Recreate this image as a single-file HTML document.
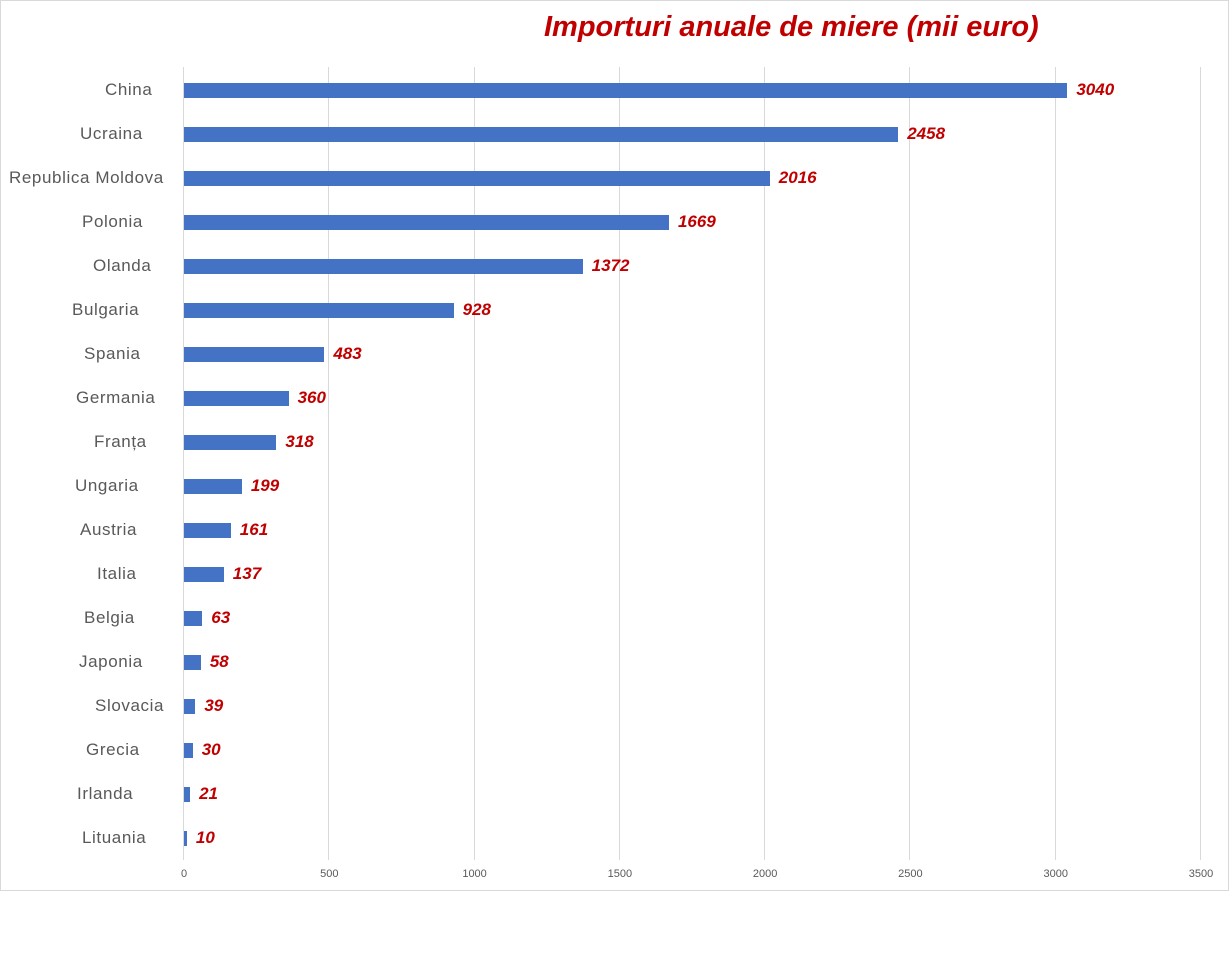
<!DOCTYPE html>
<html><head><meta charset="utf-8"><style>
body{margin:0;width:1229px;height:959px;background:#fff;position:relative;overflow:hidden;font-family:"Liberation Sans",sans-serif}
.b{position:absolute;border:1px solid #d9d9d9;left:0;top:0;width:1227px;height:889px}
.t{position:absolute;left:544px;top:11px;font-size:29px;font-weight:bold;font-style:italic;color:#c00000;white-space:nowrap}
.g{position:absolute;top:67px;height:793px;width:1px;background:#d9d9d9}
.x{position:absolute;top:868px;font-size:11px;color:#595959;transform:translateX(-50%)}
.c{position:absolute;font-size:17px;color:#595959;white-space:nowrap;letter-spacing:0.6px}
.bar{position:absolute;left:184px;height:15px;background:#4472c4}
.v{position:absolute;font-size:17px;font-weight:bold;font-style:italic;color:#c00000}
</style></head><body>
<div class="b"></div>
<div class="t">Importuri anuale de miere (mii euro)</div>
<div id="c"></div>
<script>
var s=1017/3500,h='';
for(var i=0;i<=7;i++){var x=183+i*500*s;h+='<div class="g" style="left:'+x+'px"></div><div class="x" style="left:'+(x+1)+'px">'+(i*500)+'</div>';}
var d=[["China",3040,105],["Ucraina",2458,80],["Republica Moldova",2016,9],["Polonia",1669,82],["Olanda",1372,93],["Bulgaria",928,72],["Spania",483,84],["Germania",360,76],["Franța",318,94],["Ungaria",199,75],["Austria",161,80],["Italia",137,97],["Belgia",63,84],["Japonia",58,79],["Slovacia",39,95],["Grecia",30,86],["Irlanda",21,77],["Lituania",10,82]];
d.forEach(function(r,k){var y=90+k*44,w=Math.max(2,r[1]*s);
h+='<div class="c" style="left:'+r[2]+'px;top:'+(y-10)+'px">'+r[0]+'</div>';
h+='<div class="bar" style="top:'+(y-7)+'px;width:'+w+'px"></div>';
h+='<div class="v" style="left:'+(184+w+9)+'px;top:'+(y-10)+'px">'+r[1]+'</div>';});
document.getElementById('c').innerHTML=h;
</script>
</body></html>
